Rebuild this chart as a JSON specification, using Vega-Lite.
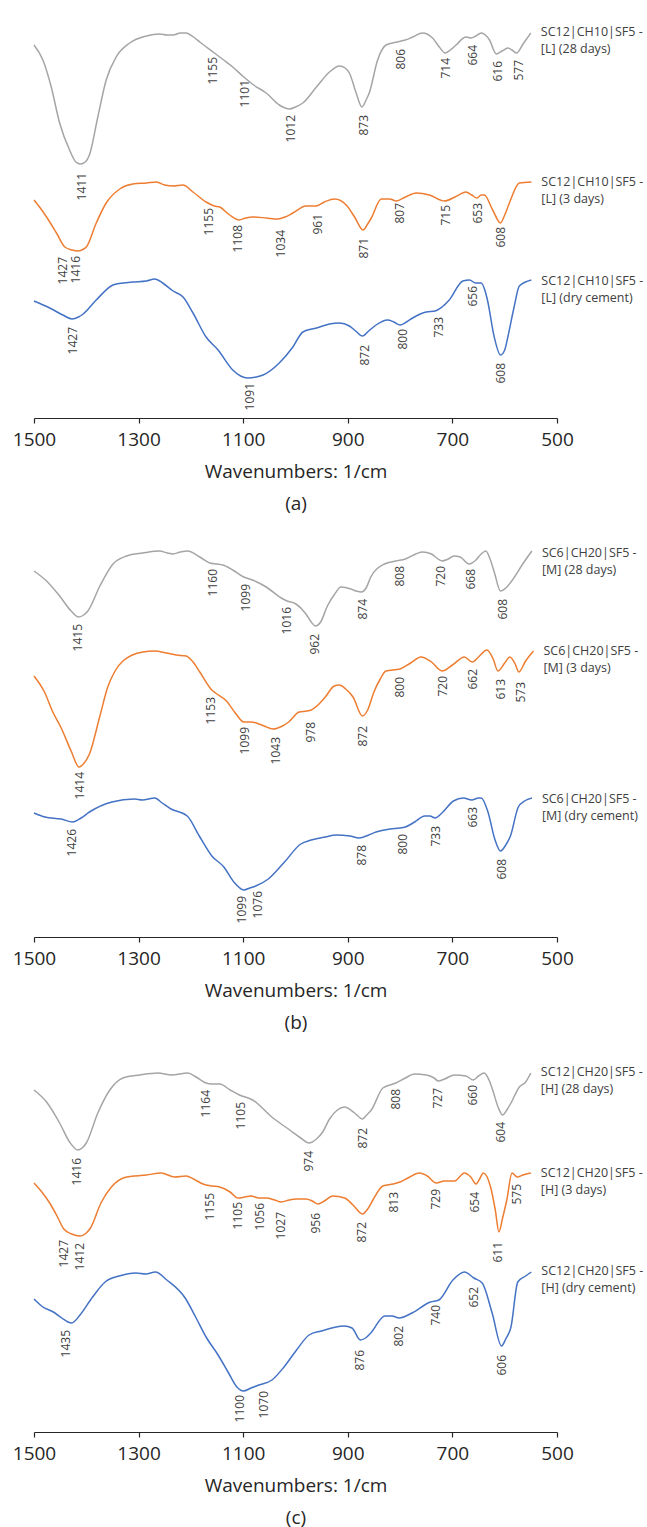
{
  "$schema": "https://vega.github.io/schema/vega-lite/v6.json",
  "padding": {"left": 12, "top": 8, "right": 0, "bottom": 0},
  "spacing": 10,
  "config": {
    "view": {"stroke": null},
    "font": "Open Sans",
    "axisX": {
      "grid": false,
      "domainColor": "#262626",
      "domainWidth": 1.2,
      "tickColor": "#262626",
      "tickWidth": 1.2,
      "tickSize": 5,
      "labelFontSize": 19,
      "labelColor": "#262626",
      "labelPadding": 7,
      "labelFlush": false,
      "labelOverlap": false,
      "titleFontSize": 19,
      "titleFontWeight": "normal",
      "titleColor": "#262626",
      "titlePadding": 13,
      "titleLineHeight": 32
    }
  },
  "datasets": {
    "curves": [
      {"p":"a","s":"28 days","wn":1500,"v":373},{"p":"a","s":"28 days","wn":1483,"v":358},{"p":"a","s":"28 days","wn":1467,"v":331},{"p":"a","s":"28 days","wn":1451,"v":295},{"p":"a","s":"28 days","wn":1432,"v":268},{"p":"a","s":"28 days","wn":1420,"v":256},{"p":"a","s":"28 days","wn":1411,"v":254},{"p":"a","s":"28 days","wn":1402,"v":256},{"p":"a","s":"28 days","wn":1394,"v":263},{"p":"a","s":"28 days","wn":1378,"v":301},{"p":"a","s":"28 days","wn":1362,"v":338},{"p":"a","s":"28 days","wn":1343,"v":361},{"p":"a","s":"28 days","wn":1317,"v":375},{"p":"a","s":"28 days","wn":1285,"v":382},{"p":"a","s":"28 days","wn":1260,"v":384},{"p":"a","s":"28 days","wn":1245,"v":383},{"p":"a","s":"28 days","wn":1234,"v":383},{"p":"a","s":"28 days","wn":1220,"v":385},{"p":"a","s":"28 days","wn":1209,"v":385},{"p":"a","s":"28 days","wn":1195,"v":381},{"p":"a","s":"28 days","wn":1183,"v":376},{"p":"a","s":"28 days","wn":1155,"v":365},{"p":"a","s":"28 days","wn":1140,"v":359},{"p":"a","s":"28 days","wn":1120,"v":351},{"p":"a","s":"28 days","wn":1101,"v":342},{"p":"a","s":"28 days","wn":1080,"v":333},{"p":"a","s":"28 days","wn":1056,"v":325},{"p":"a","s":"28 days","wn":1031,"v":313},{"p":"a","s":"28 days","wn":1020,"v":310},{"p":"a","s":"28 days","wn":1012,"v":309},{"p":"a","s":"28 days","wn":1000,"v":311},{"p":"a","s":"28 days","wn":986,"v":315},{"p":"a","s":"28 days","wn":960,"v":331},{"p":"a","s":"28 days","wn":935,"v":346},{"p":"a","s":"28 days","wn":916,"v":352},{"p":"a","s":"28 days","wn":905,"v":350},{"p":"a","s":"28 days","wn":897,"v":345},{"p":"a","s":"28 days","wn":884,"v":325},{"p":"a","s":"28 days","wn":873,"v":311},{"p":"a","s":"28 days","wn":865,"v":318},{"p":"a","s":"28 days","wn":859,"v":325},{"p":"a","s":"28 days","wn":843,"v":358},{"p":"a","s":"28 days","wn":827,"v":373},{"p":"a","s":"28 days","wn":806,"v":376},{"p":"a","s":"28 days","wn":790,"v":378},{"p":"a","s":"28 days","wn":776,"v":381},{"p":"a","s":"28 days","wn":757,"v":385},{"p":"a","s":"28 days","wn":738,"v":380},{"p":"a","s":"28 days","wn":725,"v":371},{"p":"a","s":"28 days","wn":714,"v":365},{"p":"a","s":"28 days","wn":704,"v":368},{"p":"a","s":"28 days","wn":693,"v":373},{"p":"a","s":"28 days","wn":674,"v":381},{"p":"a","s":"28 days","wn":664,"v":380},{"p":"a","s":"28 days","wn":655,"v":382},{"p":"a","s":"28 days","wn":645,"v":385},{"p":"a","s":"28 days","wn":637,"v":383},{"p":"a","s":"28 days","wn":629,"v":378},{"p":"a","s":"28 days","wn":616,"v":364},{"p":"a","s":"28 days","wn":605,"v":367},{"p":"a","s":"28 days","wn":594,"v":370},{"p":"a","s":"28 days","wn":586,"v":368},{"p":"a","s":"28 days","wn":577,"v":365},{"p":"a","s":"28 days","wn":565,"v":374},{"p":"a","s":"28 days","wn":550,"v":385},

      {"p":"a","s":"3 days","wn":1500,"v":218},{"p":"a","s":"3 days","wn":1488,"v":210},{"p":"a","s":"3 days","wn":1476,"v":201},{"p":"a","s":"3 days","wn":1457,"v":185},{"p":"a","s":"3 days","wn":1441,"v":171},{"p":"a","s":"3 days","wn":1427,"v":168},{"p":"a","s":"3 days","wn":1416,"v":167},{"p":"a","s":"3 days","wn":1405,"v":169},{"p":"a","s":"3 days","wn":1400,"v":171},{"p":"a","s":"3 days","wn":1381,"v":195},{"p":"a","s":"3 days","wn":1362,"v":215},{"p":"a","s":"3 days","wn":1336,"v":229},{"p":"a","s":"3 days","wn":1311,"v":234},{"p":"a","s":"3 days","wn":1285,"v":235},{"p":"a","s":"3 days","wn":1266,"v":236},{"p":"a","s":"3 days","wn":1250,"v":233},{"p":"a","s":"3 days","wn":1234,"v":232},{"p":"a","s":"3 days","wn":1215,"v":233},{"p":"a","s":"3 days","wn":1196,"v":226},{"p":"a","s":"3 days","wn":1171,"v":216},{"p":"a","s":"3 days","wn":1155,"v":212},{"p":"a","s":"3 days","wn":1145,"v":211},{"p":"a","s":"3 days","wn":1126,"v":203},{"p":"a","s":"3 days","wn":1108,"v":198},{"p":"a","s":"3 days","wn":1095,"v":200},{"p":"a","s":"3 days","wn":1082,"v":201},{"p":"a","s":"3 days","wn":1056,"v":200},{"p":"a","s":"3 days","wn":1034,"v":199},{"p":"a","s":"3 days","wn":1020,"v":201},{"p":"a","s":"3 days","wn":1005,"v":205},{"p":"a","s":"3 days","wn":980,"v":212},{"p":"a","s":"3 days","wn":961,"v":212},{"p":"a","s":"3 days","wn":945,"v":216},{"p":"a","s":"3 days","wn":925,"v":219},{"p":"a","s":"3 days","wn":903,"v":213},{"p":"a","s":"3 days","wn":887,"v":201},{"p":"a","s":"3 days","wn":871,"v":188},{"p":"a","s":"3 days","wn":862,"v":194},{"p":"a","s":"3 days","wn":855,"v":200},{"p":"a","s":"3 days","wn":836,"v":219},{"p":"a","s":"3 days","wn":820,"v":219},{"p":"a","s":"3 days","wn":807,"v":217},{"p":"a","s":"3 days","wn":790,"v":221},{"p":"a","s":"3 days","wn":769,"v":225},{"p":"a","s":"3 days","wn":744,"v":223},{"p":"a","s":"3 days","wn":715,"v":217},{"p":"a","s":"3 days","wn":695,"v":221},{"p":"a","s":"3 days","wn":674,"v":226},{"p":"a","s":"3 days","wn":663,"v":223},{"p":"a","s":"3 days","wn":653,"v":220},{"p":"a","s":"3 days","wn":645,"v":223},{"p":"a","s":"3 days","wn":639,"v":223},{"p":"a","s":"3 days","wn":623,"v":208},{"p":"a","s":"3 days","wn":608,"v":195},{"p":"a","s":"3 days","wn":600,"v":203},{"p":"a","s":"3 days","wn":591,"v":215},{"p":"a","s":"3 days","wn":572,"v":235},{"p":"a","s":"3 days","wn":549,"v":236},

      {"p":"a","s":"dry cement","wn":1500,"v":117},{"p":"a","s":"dry cement","wn":1470,"v":110},{"p":"a","s":"dry cement","wn":1445,"v":103},{"p":"a","s":"dry cement","wn":1427,"v":99},{"p":"a","s":"dry cement","wn":1415,"v":101},{"p":"a","s":"dry cement","wn":1406,"v":104},{"p":"a","s":"dry cement","wn":1381,"v":118},{"p":"a","s":"dry cement","wn":1349,"v":133},{"p":"a","s":"dry cement","wn":1330,"v":135},{"p":"a","s":"dry cement","wn":1311,"v":136},{"p":"a","s":"dry cement","wn":1285,"v":137},{"p":"a","s":"dry cement","wn":1269,"v":139},{"p":"a","s":"dry cement","wn":1254,"v":135},{"p":"a","s":"dry cement","wn":1234,"v":127},{"p":"a","s":"dry cement","wn":1215,"v":121},{"p":"a","s":"dry cement","wn":1196,"v":105},{"p":"a","s":"dry cement","wn":1171,"v":81},{"p":"a","s":"dry cement","wn":1148,"v":68},{"p":"a","s":"dry cement","wn":1120,"v":48},{"p":"a","s":"dry cement","wn":1105,"v":42},{"p":"a","s":"dry cement","wn":1091,"v":40},{"p":"a","s":"dry cement","wn":1075,"v":41},{"p":"a","s":"dry cement","wn":1062,"v":43},{"p":"a","s":"dry cement","wn":1031,"v":55},{"p":"a","s":"dry cement","wn":1005,"v":71},{"p":"a","s":"dry cement","wn":986,"v":86},{"p":"a","s":"dry cement","wn":960,"v":90},{"p":"a","s":"dry cement","wn":935,"v":94},{"p":"a","s":"dry cement","wn":916,"v":95},{"p":"a","s":"dry cement","wn":897,"v":92},{"p":"a","s":"dry cement","wn":885,"v":87},{"p":"a","s":"dry cement","wn":872,"v":82},{"p":"a","s":"dry cement","wn":860,"v":87},{"p":"a","s":"dry cement","wn":846,"v":93},{"p":"a","s":"dry cement","wn":824,"v":98},{"p":"a","s":"dry cement","wn":812,"v":96},{"p":"a","s":"dry cement","wn":800,"v":93},{"p":"a","s":"dry cement","wn":788,"v":96},{"p":"a","s":"dry cement","wn":776,"v":100},{"p":"a","s":"dry cement","wn":750,"v":106},{"p":"a","s":"dry cement","wn":733,"v":107},{"p":"a","s":"dry cement","wn":720,"v":111},{"p":"a","s":"dry cement","wn":706,"v":118},{"p":"a","s":"dry cement","wn":680,"v":137},{"p":"a","s":"dry cement","wn":667,"v":138},{"p":"a","s":"dry cement","wn":656,"v":135},{"p":"a","s":"dry cement","wn":645,"v":135},{"p":"a","s":"dry cement","wn":638,"v":128},{"p":"a","s":"dry cement","wn":633,"v":118},{"p":"a","s":"dry cement","wn":620,"v":81},{"p":"a","s":"dry cement","wn":608,"v":63},{"p":"a","s":"dry cement","wn":600,"v":68},{"p":"a","s":"dry cement","wn":594,"v":81},{"p":"a","s":"dry cement","wn":582,"v":111},{"p":"a","s":"dry cement","wn":572,"v":132},{"p":"a","s":"dry cement","wn":549,"v":138},

      {"p":"b","s":"28 days","wn":1500,"v":366},{"p":"b","s":"28 days","wn":1476,"v":356},{"p":"b","s":"28 days","wn":1451,"v":341},{"p":"b","s":"28 days","wn":1429,"v":326},{"p":"b","s":"28 days","wn":1415,"v":320},{"p":"b","s":"28 days","wn":1405,"v":322},{"p":"b","s":"28 days","wn":1397,"v":326},{"p":"b","s":"28 days","wn":1374,"v":351},{"p":"b","s":"28 days","wn":1349,"v":373},{"p":"b","s":"28 days","wn":1323,"v":381},{"p":"b","s":"28 days","wn":1292,"v":384},{"p":"b","s":"28 days","wn":1260,"v":386},{"p":"b","s":"28 days","wn":1245,"v":384},{"p":"b","s":"28 days","wn":1234,"v":383},{"p":"b","s":"28 days","wn":1220,"v":385},{"p":"b","s":"28 days","wn":1206,"v":386},{"p":"b","s":"28 days","wn":1183,"v":380},{"p":"b","s":"28 days","wn":1164,"v":374},{"p":"b","s":"28 days","wn":1150,"v":373},{"p":"b","s":"28 days","wn":1139,"v":372},{"p":"b","s":"28 days","wn":1120,"v":367},{"p":"b","s":"28 days","wn":1099,"v":360},{"p":"b","s":"28 days","wn":1082,"v":357},{"p":"b","s":"28 days","wn":1056,"v":350},{"p":"b","s":"28 days","wn":1024,"v":338},{"p":"b","s":"28 days","wn":1016,"v":336},{"p":"b","s":"28 days","wn":999,"v":333},{"p":"b","s":"28 days","wn":980,"v":323},{"p":"b","s":"28 days","wn":970,"v":315},{"p":"b","s":"28 days","wn":962,"v":311},{"p":"b","s":"28 days","wn":952,"v":315},{"p":"b","s":"28 days","wn":939,"v":331},{"p":"b","s":"28 days","wn":925,"v":343},{"p":"b","s":"28 days","wn":913,"v":350},{"p":"b","s":"28 days","wn":894,"v":348},{"p":"b","s":"28 days","wn":884,"v":346},{"p":"b","s":"28 days","wn":874,"v":345},{"p":"b","s":"28 days","wn":865,"v":349},{"p":"b","s":"28 days","wn":856,"v":360},{"p":"b","s":"28 days","wn":830,"v":373},{"p":"b","s":"28 days","wn":808,"v":376},{"p":"b","s":"28 days","wn":790,"v":378},{"p":"b","s":"28 days","wn":770,"v":383},{"p":"b","s":"28 days","wn":757,"v":385},{"p":"b","s":"28 days","wn":740,"v":383},{"p":"b","s":"28 days","wn":730,"v":379},{"p":"b","s":"28 days","wn":720,"v":376},{"p":"b","s":"28 days","wn":708,"v":378},{"p":"b","s":"28 days","wn":697,"v":381},{"p":"b","s":"28 days","wn":685,"v":380},{"p":"b","s":"28 days","wn":668,"v":373},{"p":"b","s":"28 days","wn":655,"v":377},{"p":"b","s":"28 days","wn":645,"v":383},{"p":"b","s":"28 days","wn":636,"v":386},{"p":"b","s":"28 days","wn":628,"v":378},{"p":"b","s":"28 days","wn":620,"v":365},{"p":"b","s":"28 days","wn":608,"v":346},{"p":"b","s":"28 days","wn":598,"v":349},{"p":"b","s":"28 days","wn":588,"v":355},{"p":"b","s":"28 days","wn":563,"v":375},{"p":"b","s":"28 days","wn":548,"v":386},

      {"p":"b","s":"3 days","wn":1500,"v":261},{"p":"b","s":"3 days","wn":1480,"v":245},{"p":"b","s":"3 days","wn":1464,"v":225},{"p":"b","s":"3 days","wn":1448,"v":209},{"p":"b","s":"3 days","wn":1429,"v":186},{"p":"b","s":"3 days","wn":1414,"v":170},{"p":"b","s":"3 days","wn":1404,"v":174},{"p":"b","s":"3 days","wn":1394,"v":183},{"p":"b","s":"3 days","wn":1374,"v":221},{"p":"b","s":"3 days","wn":1359,"v":250},{"p":"b","s":"3 days","wn":1345,"v":266},{"p":"b","s":"3 days","wn":1330,"v":276},{"p":"b","s":"3 days","wn":1292,"v":285},{"p":"b","s":"3 days","wn":1269,"v":286},{"p":"b","s":"3 days","wn":1247,"v":284},{"p":"b","s":"3 days","wn":1228,"v":282},{"p":"b","s":"3 days","wn":1209,"v":281},{"p":"b","s":"3 days","wn":1196,"v":275},{"p":"b","s":"3 days","wn":1183,"v":265},{"p":"b","s":"3 days","wn":1160,"v":247},{"p":"b","s":"3 days","wn":1153,"v":244},{"p":"b","s":"3 days","wn":1132,"v":236},{"p":"b","s":"3 days","wn":1115,"v":224},{"p":"b","s":"3 days","wn":1099,"v":215},{"p":"b","s":"3 days","wn":1085,"v":215},{"p":"b","s":"3 days","wn":1075,"v":214},{"p":"b","s":"3 days","wn":1060,"v":211},{"p":"b","s":"3 days","wn":1043,"v":208},{"p":"b","s":"3 days","wn":1025,"v":211},{"p":"b","s":"3 days","wn":1013,"v":215},{"p":"b","s":"3 days","wn":993,"v":225},{"p":"b","s":"3 days","wn":978,"v":226},{"p":"b","s":"3 days","wn":970,"v":227},{"p":"b","s":"3 days","wn":955,"v":233},{"p":"b","s":"3 days","wn":943,"v":240},{"p":"b","s":"3 days","wn":926,"v":251},{"p":"b","s":"3 days","wn":916,"v":252},{"p":"b","s":"3 days","wn":904,"v":248},{"p":"b","s":"3 days","wn":890,"v":240},{"p":"b","s":"3 days","wn":872,"v":221},{"p":"b","s":"3 days","wn":862,"v":227},{"p":"b","s":"3 days","wn":850,"v":245},{"p":"b","s":"3 days","wn":838,"v":258},{"p":"b","s":"3 days","wn":827,"v":266},{"p":"b","s":"3 days","wn":800,"v":268},{"p":"b","s":"3 days","wn":780,"v":274},{"p":"b","s":"3 days","wn":760,"v":280},{"p":"b","s":"3 days","wn":740,"v":275},{"p":"b","s":"3 days","wn":720,"v":266},{"p":"b","s":"3 days","wn":700,"v":272},{"p":"b","s":"3 days","wn":677,"v":280},{"p":"b","s":"3 days","wn":662,"v":275},{"p":"b","s":"3 days","wn":650,"v":280},{"p":"b","s":"3 days","wn":634,"v":287},{"p":"b","s":"3 days","wn":622,"v":278},{"p":"b","s":"3 days","wn":613,"v":266},{"p":"b","s":"3 days","wn":600,"v":274},{"p":"b","s":"3 days","wn":590,"v":280},{"p":"b","s":"3 days","wn":580,"v":273},{"p":"b","s":"3 days","wn":573,"v":265},{"p":"b","s":"3 days","wn":560,"v":276},{"p":"b","s":"3 days","wn":545,"v":286},

      {"p":"b","s":"dry cement","wn":1500,"v":124},{"p":"b","s":"dry cement","wn":1479,"v":120},{"p":"b","s":"dry cement","wn":1448,"v":118},{"p":"b","s":"dry cement","wn":1426,"v":115},{"p":"b","s":"dry cement","wn":1410,"v":119},{"p":"b","s":"dry cement","wn":1394,"v":125},{"p":"b","s":"dry cement","wn":1351,"v":135},{"p":"b","s":"dry cement","wn":1308,"v":138},{"p":"b","s":"dry cement","wn":1293,"v":137},{"p":"b","s":"dry cement","wn":1269,"v":139},{"p":"b","s":"dry cement","wn":1255,"v":134},{"p":"b","s":"dry cement","wn":1238,"v":128},{"p":"b","s":"dry cement","wn":1207,"v":121},{"p":"b","s":"dry cement","wn":1184,"v":101},{"p":"b","s":"dry cement","wn":1160,"v":81},{"p":"b","s":"dry cement","wn":1137,"v":70},{"p":"b","s":"dry cement","wn":1118,"v":55},{"p":"b","s":"dry cement","wn":1099,"v":47},{"p":"b","s":"dry cement","wn":1087,"v":49},{"p":"b","s":"dry cement","wn":1076,"v":51},{"p":"b","s":"dry cement","wn":1052,"v":58},{"p":"b","s":"dry cement","wn":1021,"v":75},{"p":"b","s":"dry cement","wn":990,"v":93},{"p":"b","s":"dry cement","wn":970,"v":97},{"p":"b","s":"dry cement","wn":943,"v":100},{"p":"b","s":"dry cement","wn":923,"v":102},{"p":"b","s":"dry cement","wn":896,"v":101},{"p":"b","s":"dry cement","wn":878,"v":99},{"p":"b","s":"dry cement","wn":860,"v":102},{"p":"b","s":"dry cement","wn":846,"v":105},{"p":"b","s":"dry cement","wn":819,"v":108},{"p":"b","s":"dry cement","wn":800,"v":109},{"p":"b","s":"dry cement","wn":790,"v":110},{"p":"b","s":"dry cement","wn":772,"v":115},{"p":"b","s":"dry cement","wn":753,"v":121},{"p":"b","s":"dry cement","wn":743,"v":121},{"p":"b","s":"dry cement","wn":733,"v":119},{"p":"b","s":"dry cement","wn":720,"v":124},{"p":"b","s":"dry cement","wn":698,"v":136},{"p":"b","s":"dry cement","wn":679,"v":139},{"p":"b","s":"dry cement","wn":663,"v":137},{"p":"b","s":"dry cement","wn":650,"v":139},{"p":"b","s":"dry cement","wn":645,"v":139},{"p":"b","s":"dry cement","wn":632,"v":125},{"p":"b","s":"dry cement","wn":619,"v":98},{"p":"b","s":"dry cement","wn":608,"v":86},{"p":"b","s":"dry cement","wn":598,"v":92},{"p":"b","s":"dry cement","wn":589,"v":101},{"p":"b","s":"dry cement","wn":574,"v":130},{"p":"b","s":"dry cement","wn":562,"v":136},{"p":"b","s":"dry cement","wn":548,"v":139},

      {"p":"c","s":"28 days","wn":1500,"v":342},{"p":"c","s":"28 days","wn":1476,"v":330},{"p":"c","s":"28 days","wn":1451,"v":309},{"p":"c","s":"28 days","wn":1432,"v":290},{"p":"c","s":"28 days","wn":1416,"v":282},{"p":"c","s":"28 days","wn":1408,"v":284},{"p":"c","s":"28 days","wn":1400,"v":289},{"p":"c","s":"28 days","wn":1378,"v":319},{"p":"c","s":"28 days","wn":1355,"v":342},{"p":"c","s":"28 days","wn":1330,"v":354},{"p":"c","s":"28 days","wn":1298,"v":357},{"p":"c","s":"28 days","wn":1263,"v":359},{"p":"c","s":"28 days","wn":1237,"v":357},{"p":"c","s":"28 days","wn":1206,"v":359},{"p":"c","s":"28 days","wn":1190,"v":355},{"p":"c","s":"28 days","wn":1171,"v":349},{"p":"c","s":"28 days","wn":1160,"v":348},{"p":"c","s":"28 days","wn":1145,"v":348},{"p":"c","s":"28 days","wn":1125,"v":342},{"p":"c","s":"28 days","wn":1107,"v":337},{"p":"c","s":"28 days","wn":1082,"v":332},{"p":"c","s":"28 days","wn":1043,"v":314},{"p":"c","s":"28 days","wn":1011,"v":302},{"p":"c","s":"28 days","wn":990,"v":294},{"p":"c","s":"28 days","wn":974,"v":289},{"p":"c","s":"28 days","wn":960,"v":293},{"p":"c","s":"28 days","wn":948,"v":300},{"p":"c","s":"28 days","wn":935,"v":313},{"p":"c","s":"28 days","wn":920,"v":322},{"p":"c","s":"28 days","wn":906,"v":325},{"p":"c","s":"28 days","wn":887,"v":319},{"p":"c","s":"28 days","wn":872,"v":313},{"p":"c","s":"28 days","wn":864,"v":317},{"p":"c","s":"28 days","wn":855,"v":322},{"p":"c","s":"28 days","wn":833,"v":344},{"p":"c","s":"28 days","wn":808,"v":349},{"p":"c","s":"28 days","wn":790,"v":354},{"p":"c","s":"28 days","wn":773,"v":358},{"p":"c","s":"28 days","wn":750,"v":357},{"p":"c","s":"28 days","wn":735,"v":354},{"p":"c","s":"28 days","wn":727,"v":351},{"p":"c","s":"28 days","wn":715,"v":353},{"p":"c","s":"28 days","wn":696,"v":357},{"p":"c","s":"28 days","wn":674,"v":356},{"p":"c","s":"28 days","wn":660,"v":352},{"p":"c","s":"28 days","wn":650,"v":356},{"p":"c","s":"28 days","wn":639,"v":359},{"p":"c","s":"28 days","wn":630,"v":352},{"p":"c","s":"28 days","wn":623,"v":342},{"p":"c","s":"28 days","wn":612,"v":324},{"p":"c","s":"28 days","wn":604,"v":317},{"p":"c","s":"28 days","wn":596,"v":322},{"p":"c","s":"28 days","wn":588,"v":329},{"p":"c","s":"28 days","wn":572,"v":345},{"p":"c","s":"28 days","wn":560,"v":350},{"p":"c","s":"28 days","wn":550,"v":359},

      {"p":"c","s":"3 days","wn":1500,"v":249},{"p":"c","s":"3 days","wn":1485,"v":240},{"p":"c","s":"3 days","wn":1470,"v":229},{"p":"c","s":"3 days","wn":1456,"v":216},{"p":"c","s":"3 days","wn":1443,"v":203},{"p":"c","s":"3 days","wn":1428,"v":198},{"p":"c","s":"3 days","wn":1412,"v":196},{"p":"c","s":"3 days","wn":1400,"v":199},{"p":"c","s":"3 days","wn":1392,"v":204},{"p":"c","s":"3 days","wn":1372,"v":229},{"p":"c","s":"3 days","wn":1352,"v":245},{"p":"c","s":"3 days","wn":1323,"v":255},{"p":"c","s":"3 days","wn":1285,"v":257},{"p":"c","s":"3 days","wn":1257,"v":259},{"p":"c","s":"3 days","wn":1231,"v":255},{"p":"c","s":"3 days","wn":1209,"v":256},{"p":"c","s":"3 days","wn":1195,"v":253},{"p":"c","s":"3 days","wn":1177,"v":248},{"p":"c","s":"3 days","wn":1160,"v":246},{"p":"c","s":"3 days","wn":1145,"v":245},{"p":"c","s":"3 days","wn":1125,"v":240},{"p":"c","s":"3 days","wn":1110,"v":234},{"p":"c","s":"3 days","wn":1097,"v":235},{"p":"c","s":"3 days","wn":1085,"v":236},{"p":"c","s":"3 days","wn":1070,"v":234},{"p":"c","s":"3 days","wn":1056,"v":234},{"p":"c","s":"3 days","wn":1040,"v":232},{"p":"c","s":"3 days","wn":1027,"v":230},{"p":"c","s":"3 days","wn":1012,"v":232},{"p":"c","s":"3 days","wn":999,"v":233},{"p":"c","s":"3 days","wn":980,"v":233},{"p":"c","s":"3 days","wn":968,"v":231},{"p":"c","s":"3 days","wn":957,"v":228},{"p":"c","s":"3 days","wn":945,"v":231},{"p":"c","s":"3 days","wn":929,"v":236},{"p":"c","s":"3 days","wn":906,"v":234},{"p":"c","s":"3 days","wn":890,"v":227},{"p":"c","s":"3 days","wn":872,"v":218},{"p":"c","s":"3 days","wn":862,"v":223},{"p":"c","s":"3 days","wn":852,"v":232},{"p":"c","s":"3 days","wn":833,"v":246},{"p":"c","s":"3 days","wn":813,"v":248},{"p":"c","s":"3 days","wn":800,"v":250},{"p":"c","s":"3 days","wn":785,"v":254},{"p":"c","s":"3 days","wn":763,"v":259},{"p":"c","s":"3 days","wn":748,"v":256},{"p":"c","s":"3 days","wn":731,"v":249},{"p":"c","s":"3 days","wn":715,"v":251},{"p":"c","s":"3 days","wn":696,"v":251},{"p":"c","s":"3 days","wn":677,"v":259},{"p":"c","s":"3 days","wn":665,"v":255},{"p":"c","s":"3 days","wn":655,"v":248},{"p":"c","s":"3 days","wn":648,"v":253},{"p":"c","s":"3 days","wn":641,"v":259},{"p":"c","s":"3 days","wn":627,"v":245},{"p":"c","s":"3 days","wn":618,"v":222},{"p":"c","s":"3 days","wn":611,"v":200},{"p":"c","s":"3 days","wn":604,"v":214},{"p":"c","s":"3 days","wn":596,"v":232},{"p":"c","s":"3 days","wn":586,"v":259},{"p":"c","s":"3 days","wn":576,"v":255},{"p":"c","s":"3 days","wn":565,"v":257},{"p":"c","s":"3 days","wn":550,"v":259},

      {"p":"c","s":"dry cement","wn":1500,"v":133},{"p":"c","s":"dry cement","wn":1483,"v":125},{"p":"c","s":"dry cement","wn":1463,"v":120},{"p":"c","s":"dry cement","wn":1447,"v":114},{"p":"c","s":"dry cement","wn":1435,"v":110},{"p":"c","s":"dry cement","wn":1428,"v":109},{"p":"c","s":"dry cement","wn":1412,"v":117},{"p":"c","s":"dry cement","wn":1388,"v":135},{"p":"c","s":"dry cement","wn":1364,"v":150},{"p":"c","s":"dry cement","wn":1337,"v":156},{"p":"c","s":"dry cement","wn":1305,"v":159},{"p":"c","s":"dry cement","wn":1286,"v":158},{"p":"c","s":"dry cement","wn":1268,"v":160},{"p":"c","s":"dry cement","wn":1246,"v":152},{"p":"c","s":"dry cement","wn":1211,"v":134},{"p":"c","s":"dry cement","wn":1191,"v":115},{"p":"c","s":"dry cement","wn":1171,"v":95},{"p":"c","s":"dry cement","wn":1148,"v":77},{"p":"c","s":"dry cement","wn":1128,"v":59},{"p":"c","s":"dry cement","wn":1112,"v":45},{"p":"c","s":"dry cement","wn":1100,"v":41},{"p":"c","s":"dry cement","wn":1085,"v":44},{"p":"c","s":"dry cement","wn":1070,"v":47},{"p":"c","s":"dry cement","wn":1045,"v":52},{"p":"c","s":"dry cement","wn":1022,"v":65},{"p":"c","s":"dry cement","wn":998,"v":82},{"p":"c","s":"dry cement","wn":974,"v":97},{"p":"c","s":"dry cement","wn":951,"v":101},{"p":"c","s":"dry cement","wn":907,"v":106},{"p":"c","s":"dry cement","wn":892,"v":104},{"p":"c","s":"dry cement","wn":876,"v":92},{"p":"c","s":"dry cement","wn":866,"v":94},{"p":"c","s":"dry cement","wn":856,"v":99},{"p":"c","s":"dry cement","wn":829,"v":116},{"p":"c","s":"dry cement","wn":815,"v":116},{"p":"c","s":"dry cement","wn":802,"v":114},{"p":"c","s":"dry cement","wn":777,"v":119},{"p":"c","s":"dry cement","wn":742,"v":130},{"p":"c","s":"dry cement","wn":726,"v":132},{"p":"c","s":"dry cement","wn":699,"v":152},{"p":"c","s":"dry cement","wn":677,"v":160},{"p":"c","s":"dry cement","wn":659,"v":154},{"p":"c","s":"dry cement","wn":643,"v":149},{"p":"c","s":"dry cement","wn":624,"v":119},{"p":"c","s":"dry cement","wn":606,"v":86},{"p":"c","s":"dry cement","wn":598,"v":93},{"p":"c","s":"dry cement","wn":588,"v":105},{"p":"c","s":"dry cement","wn":575,"v":150},{"p":"c","s":"dry cement","wn":560,"v":156},{"p":"c","s":"dry cement","wn":549,"v":160}
    ],
    "peaks": [
      {"p":"a","wn":1409,"v":245,"label":"1411"},{"p":"a","wn":1158,"v":361,"label":"1155"},{"p":"a","wn":1096,"v":338,"label":"1101"},{"p":"a","wn":1009,"v":303,"label":"1012"},{"p":"a","wn":869,"v":303,"label":"873"},{"p":"a","wn":798,"v":369,"label":"806"},{"p":"a","wn":712,"v":360,"label":"714"},{"p":"a","wn":661,"v":373,"label":"664"},{"p":"a","wn":613,"v":357,"label":"616"},{"p":"a","wn":572,"v":358,"label":"577"},
      {"p":"a","wn":1445,"v":161,"label":"1427"},{"p":"a","wn":1419,"v":162,"label":"1416"},{"p":"a","wn":1166,"v":210,"label":"1155"},{"p":"a","wn":1110,"v":193,"label":"1108"},{"p":"a","wn":1027,"v":188,"label":"1034"},{"p":"a","wn":957,"v":204,"label":"961"},{"p":"a","wn":869,"v":180,"label":"871"},{"p":"a","wn":801,"v":215,"label":"807"},{"p":"a","wn":712,"v":213,"label":"715"},{"p":"a","wn":651,"v":215,"label":"653"},{"p":"a","wn":607,"v":191,"label":"608"},
      {"p":"a","wn":1425,"v":91,"label":"1427"},{"p":"a","wn":1087,"v":35,"label":"1091"},{"p":"a","wn":868,"v":73,"label":"872"},{"p":"a","wn":795,"v":89,"label":"800"},{"p":"a","wn":726,"v":101,"label":"733"},{"p":"a","wn":661,"v":132,"label":"656"},{"p":"a","wn":607,"v":55,"label":"608"},
      {"p":"b","wn":1415,"v":313,"label":"1415"},{"p":"b","wn":1158,"v":368,"label":"1160"},{"p":"b","wn":1095,"v":353,"label":"1099"},{"p":"b","wn":1016,"v":330,"label":"1016"},{"p":"b","wn":962,"v":303,"label":"962"},{"p":"b","wn":870,"v":338,"label":"874"},{"p":"b","wn":800,"v":371,"label":"808"},{"p":"b","wn":722,"v":371,"label":"720"},{"p":"b","wn":665,"v":368,"label":"668"},{"p":"b","wn":604,"v":338,"label":"608"},
      {"p":"b","wn":1413,"v":165,"label":"1414"},{"p":"b","wn":1162,"v":240,"label":"1153"},{"p":"b","wn":1096,"v":210,"label":"1099"},{"p":"b","wn":1038,"v":200,"label":"1043"},{"p":"b","wn":970,"v":215,"label":"978"},{"p":"b","wn":871,"v":211,"label":"872"},{"p":"b","wn":800,"v":260,"label":"800"},{"p":"b","wn":718,"v":261,"label":"720"},{"p":"b","wn":660,"v":268,"label":"662"},{"p":"b","wn":607,"v":258,"label":"613"},{"p":"b","wn":568,"v":255,"label":"573"},
      {"p":"b","wn":1428,"v":108,"label":"1426"},{"p":"b","wn":1102,"v":41,"label":"1099"},{"p":"b","wn":1071,"v":46,"label":"1076"},{"p":"b","wn":873,"v":92,"label":"878"},{"p":"b","wn":795,"v":103,"label":"800"},{"p":"b","wn":731,"v":111,"label":"733"},{"p":"b","wn":661,"v":130,"label":"663"},{"p":"b","wn":605,"v":78,"label":"608"},
      {"p":"c","wn":1418,"v":274,"label":"1416"},{"p":"c","wn":1172,"v":342,"label":"1164"},{"p":"c","wn":1105,"v":330,"label":"1105"},{"p":"c","wn":975,"v":281,"label":"974"},{"p":"c","wn":871,"v":304,"label":"872"},{"p":"c","wn":808,"v":343,"label":"808"},{"p":"c","wn":728,"v":344,"label":"727"},{"p":"c","wn":661,"v":347,"label":"660"},{"p":"c","wn":607,"v":310,"label":"604"},
      {"p":"c","wn":1443,"v":192,"label":"1427"},{"p":"c","wn":1412,"v":189,"label":"1412"},{"p":"c","wn":1163,"v":239,"label":"1155"},{"p":"c","wn":1110,"v":230,"label":"1105"},{"p":"c","wn":1067,"v":229,"label":"1056"},{"p":"c","wn":1027,"v":220,"label":"1027"},{"p":"c","wn":960,"v":219,"label":"956"},{"p":"c","wn":872,"v":210,"label":"872"},{"p":"c","wn":811,"v":240,"label":"813"},{"p":"c","wn":731,"v":243,"label":"729"},{"p":"c","wn":656,"v":240,"label":"654"},{"p":"c","wn":613,"v":190,"label":"611"},{"p":"c","wn":576,"v":248,"label":"575"},
      {"p":"c","wn":1438,"v":102,"label":"1435"},{"p":"c","wn":1106,"v":37,"label":"1100"},{"p":"c","wn":1061,"v":41,"label":"1070"},{"p":"c","wn":876,"v":82,"label":"876"},{"p":"c","wn":803,"v":106,"label":"802"},{"p":"c","wn":732,"v":127,"label":"740"},{"p":"c","wn":659,"v":145,"label":"652"},{"p":"c","wn":606,"v":77,"label":"606"}
    ],
    "names": [
      {"p":"a","wn":550,"v":386,"name":"SC12|CH10|SF5 -\n[L] (28 days)"},
      {"p":"a","wn":549,"v":236,"name":"SC12|CH10|SF5 -\n[L] (3 days)"},
      {"p":"a","wn":549,"v":137,"name":"SC12|CH10|SF5 -\n[L] (dry cement)"},
      {"p":"b","wn":548,"v":384,"name":"SC6|CH20|SF5 -\n[M] (28 days)"},
      {"p":"b","wn":545,"v":286,"name":"SC6|CH20|SF5 -\n[M] (3 days)"},
      {"p":"b","wn":548,"v":138,"name":"SC6|CH20|SF5 -\n[M] (dry cement)"},
      {"p":"c","wn":550,"v":360,"name":"SC12|CH20|SF5 -\n[H] (28 days)"},
      {"p":"c","wn":550,"v":259,"name":"SC12|CH20|SF5 -\n[H] (3 days)"},
      {"p":"c","wn":549,"v":161,"name":"SC12|CH20|SF5 -\n[H] (dry cement)"}
    ]
  },
  "vconcat": [
    {
      "width": 523,
      "height": 410,
      "layer": [
        {
          "data": {"name": "curves"},
          "transform": [{"filter": "datum.p == 'a'"}],
          "mark": {"type": "line", "interpolate": "monotone", "strokeWidth": 1.5},
          "encoding": {
            "x": {"field": "wn", "type": "quantitative", "scale": {"domain": [500, 1500], "reverse": true, "nice": false, "zero": false}, "axis": {"values": [1500, 1300, 1100, 900, 700, 500], "format": "d", "title": ["Wavenumbers: 1/cm", "(a)"]}},
            "y": {"field": "v", "type": "quantitative", "scale": {"domain": [0, 410], "nice": false}, "axis": null},
            "color": {"field": "s", "type": "nominal", "scale": {"domain": ["28 days", "3 days", "dry cement"], "range": ["#A5A5A5", "#ED7D31", "#4472C4"]}, "legend": null},
            "order": {"field": "wn", "type": "quantitative", "sort": "descending"}
          }
        },
        {
          "data": {"name": "peaks"},
          "transform": [{"filter": "datum.p == 'a'"}],
          "mark": {"type": "text", "angle": 270, "align": "right", "baseline": "middle", "fontSize": 12, "color": "#404040"},
          "encoding": {
            "x": {"field": "wn", "type": "quantitative"},
            "y": {"field": "v", "type": "quantitative"},
            "text": {"field": "label", "type": "nominal"}
          }
        },
        {
          "data": {"name": "names"},
          "transform": [{"filter": "datum.p == 'a'"}],
          "mark": {"type": "text", "align": "left", "baseline": "middle", "dx": 10, "fontSize": 12.5, "lineHeight": 17, "lineBreak": "\n", "color": "#404040"},
          "encoding": {
            "x": {"field": "wn", "type": "quantitative"},
            "y": {"field": "v", "type": "quantitative"},
            "text": {"field": "name", "type": "nominal"}
          }
        }
      ]
    },
    {
      "width": 523,
      "height": 414,
      "layer": [
        {
          "data": {"name": "curves"},
          "transform": [{"filter": "datum.p == 'b'"}],
          "mark": {"type": "line", "interpolate": "monotone", "strokeWidth": 1.5},
          "encoding": {
            "x": {"field": "wn", "type": "quantitative", "scale": {"domain": [500, 1500], "reverse": true, "nice": false, "zero": false}, "axis": {"values": [1500, 1300, 1100, 900, 700, 500], "format": "d", "title": ["Wavenumbers: 1/cm", "(b)"]}},
            "y": {"field": "v", "type": "quantitative", "scale": {"domain": [0, 414], "nice": false}, "axis": null},
            "color": {"field": "s", "type": "nominal", "scale": {"domain": ["28 days", "3 days", "dry cement"], "range": ["#A5A5A5", "#ED7D31", "#4472C4"]}, "legend": null},
            "order": {"field": "wn", "type": "quantitative", "sort": "descending"}
          }
        },
        {
          "data": {"name": "peaks"},
          "transform": [{"filter": "datum.p == 'b'"}],
          "mark": {"type": "text", "angle": 270, "align": "right", "baseline": "middle", "fontSize": 12, "color": "#404040"},
          "encoding": {
            "x": {"field": "wn", "type": "quantitative"},
            "y": {"field": "v", "type": "quantitative"},
            "text": {"field": "label", "type": "nominal"}
          }
        },
        {
          "data": {"name": "names"},
          "transform": [{"filter": "datum.p == 'b'"}],
          "mark": {"type": "text", "align": "left", "baseline": "middle", "dx": 10, "fontSize": 12.5, "lineHeight": 17, "lineBreak": "\n", "color": "#404040"},
          "encoding": {
            "x": {"field": "wn", "type": "quantitative"},
            "y": {"field": "v", "type": "quantitative"},
            "text": {"field": "name", "type": "nominal"}
          }
        }
      ]
    },
    {
      "width": 523,
      "height": 390,
      "layer": [
        {
          "data": {"name": "curves"},
          "transform": [{"filter": "datum.p == 'c'"}],
          "mark": {"type": "line", "interpolate": "monotone", "strokeWidth": 1.5},
          "encoding": {
            "x": {"field": "wn", "type": "quantitative", "scale": {"domain": [500, 1500], "reverse": true, "nice": false, "zero": false}, "axis": {"values": [1500, 1300, 1100, 900, 700, 500], "format": "d", "title": ["Wavenumbers: 1/cm", "(c)"]}},
            "y": {"field": "v", "type": "quantitative", "scale": {"domain": [0, 390], "nice": false}, "axis": null},
            "color": {"field": "s", "type": "nominal", "scale": {"domain": ["28 days", "3 days", "dry cement"], "range": ["#A5A5A5", "#ED7D31", "#4472C4"]}, "legend": null},
            "order": {"field": "wn", "type": "quantitative", "sort": "descending"}
          }
        },
        {
          "data": {"name": "peaks"},
          "transform": [{"filter": "datum.p == 'c'"}],
          "mark": {"type": "text", "angle": 270, "align": "right", "baseline": "middle", "fontSize": 12, "color": "#404040"},
          "encoding": {
            "x": {"field": "wn", "type": "quantitative"},
            "y": {"field": "v", "type": "quantitative"},
            "text": {"field": "label", "type": "nominal"}
          }
        },
        {
          "data": {"name": "names"},
          "transform": [{"filter": "datum.p == 'c'"}],
          "mark": {"type": "text", "align": "left", "baseline": "middle", "dx": 10, "fontSize": 12.5, "lineHeight": 17, "lineBreak": "\n", "color": "#404040"},
          "encoding": {
            "x": {"field": "wn", "type": "quantitative"},
            "y": {"field": "v", "type": "quantitative"},
            "text": {"field": "name", "type": "nominal"}
          }
        }
      ]
    }
  ]
}
